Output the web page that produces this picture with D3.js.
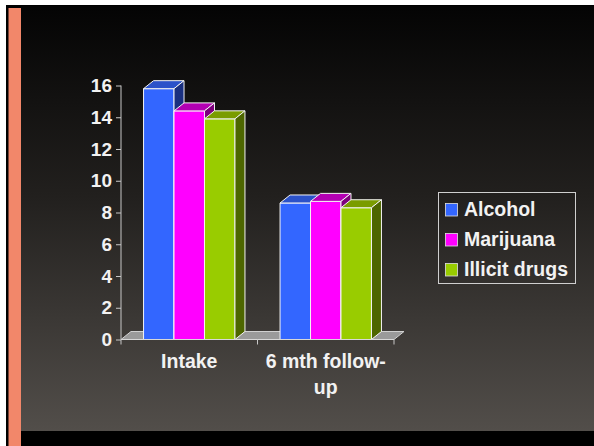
<!DOCTYPE html>
<html>
<head>
<meta charset="utf-8">
<script src="https://cdn.jsdelivr.net/npm/d3@7"></script>
<style>
  html, body { margin: 0; padding: 0; background: #fff; }
  svg { display: block; }
  text { font-family: "Liberation Sans", Arial, sans-serif; font-weight: bold; }
</style>
</head>
<body>
<svg id="chart" width="594" height="446"></svg>
<script>
// Chart data
const categories = ["Intake", "6 mth follow-up"];
const series = ["Alcohol", "Marijuana", "Illicit drugs"];
const alcohol = [15.8, 8.6];
const marijuana = [14.4, 8.7];
const illicit = [13.9, 8.3];
const yTicks = [0, 2, 4, 6, 8, 10, 12, 14, 16];
const categoryLines = [["Intake"], ["6 mth follow-", "up"]];

const values = [alcohol, marijuana, illicit];
const palette = {
  front: ["#3366ff", "#ff00ff", "#99cc00"],
  top:   ["#2b52c9", "#b300b3", "#7a9c00"],
  side:  ["#1a3080", "#7d007d", "#4d6600"]
};

const svg = d3.select("#chart");
const W = 594, H = 446;

// Slide backdrop
const defs = svg.append("defs");
const grad = defs.append("linearGradient")
  .attr("id", "bg").attr("x1", 0).attr("y1", 0).attr("x2", 0).attr("y2", 1);
grad.append("stop").attr("offset", "0%").attr("stop-color", "#040404");
grad.append("stop").attr("offset", "45%").attr("stop-color", "#22201e");
grad.append("stop").attr("offset", "100%").attr("stop-color", "#524e4a");

svg.append("rect").attr("x", 6).attr("y", 5).attr("width", W - 6).attr("height", H - 5).attr("fill", "#000");
svg.append("rect").attr("x", 21).attr("y", 6).attr("width", W - 21).attr("height", 425).attr("fill", "url(#bg)");
svg.append("rect").attr("x", 8.5).attr("y", 8).attr("width", 12.5).attr("height", H - 8).attr("fill", "#f2876a");

// Plot geometry
const x0 = 121, x1 = 394, yBase = 339.5, yTopPx = 85.5;
const dx = 10, dy = 8;

const x = d3.scaleBand().domain(categories).range([x0, x1]).padding(0);
const xs = d3.scaleBand().domain(series).range([0, x.bandwidth()]).paddingInner(0).paddingOuter(0.74);
const y = d3.scaleLinear().domain([0, 16]).range([yBase, yTopPx]);

const plot = svg.append("g");

// Floor
plot.append("path")
  .attr("d", `M${x0},${yBase} L${x0 + dx},${yBase - dy} L${x1 + dx},${yBase - dy} L${x1},${yBase} Z`)
  .attr("fill", "#9a9a9a").attr("stroke", "#d0d0d0").attr("stroke-width", 1);

// Bars, left to right so nearer faces overlap correctly
categories.forEach((cat, ci) => {
  series.forEach((s, si) => {
    const v = values[si][ci];
    const bx = x(cat) + xs(s);
    const bw = xs.bandwidth();
    const ty = y(v);
    const g = plot.append("g").attr("stroke", "#f4f4f4").attr("stroke-width", 1).attr("stroke-linejoin", "round");
    g.append("rect").attr("x", bx).attr("y", ty).attr("width", bw).attr("height", yBase - ty)
      .attr("fill", palette.front[si]);
    g.append("path")
      .attr("d", `M${bx},${ty} L${bx + dx},${ty - dy} L${bx + bw + dx},${ty - dy} L${bx + bw},${ty} Z`)
      .attr("fill", palette.top[si]);
    g.append("path")
      .attr("d", `M${bx + bw},${ty} L${bx + bw + dx},${ty - dy} L${bx + bw + dx},${yBase - dy} L${bx + bw},${yBase} Z`)
      .attr("fill", palette.side[si]);
  });
});

// Y axis
const yAxis = d3.axisLeft(y).tickValues(yTicks).tickSize(5).tickPadding(4);
const ya = svg.append("g").attr("transform", `translate(${x0},0)`).call(yAxis);
ya.select(".domain").attr("stroke", "#c8c8c8").attr("d", `M0,${yBase}V${yTopPx}`);
ya.selectAll(".tick line").attr("stroke", "#c8c8c8");
ya.selectAll(".tick text").attr("fill", "#f2f2f2").attr("font-size", 19)
  .attr("font-family", "Liberation Sans, Arial, sans-serif").attr("font-weight", "bold");

// X axis baseline with boundary ticks
const xa = svg.append("g");
xa.append("line").attr("x1", x0).attr("x2", x1).attr("y1", yBase).attr("y2", yBase).attr("stroke", "#d8d8d8");
[x0, x(categories[1]), x1].forEach(px => {
  xa.append("line").attr("x1", px).attr("x2", px).attr("y1", yBase).attr("y2", yBase + 5).attr("stroke", "#c8c8c8");
});
categories.forEach((cat, ci) => {
  const t = xa.append("text").attr("x", x(cat) + x.bandwidth() / 2).attr("y", 368)
    .attr("text-anchor", "middle").attr("fill", "#f2f2f2").attr("font-size", 19.5);
  categoryLines[ci].forEach((line, li) => {
    t.append("tspan").attr("x", x(cat) + x.bandwidth() / 2).attr("dy", li === 0 ? 0 : 26).text(line);
  });
});

// Legend
const lg = svg.append("g");
lg.append("rect").attr("x", 438.5).attr("y", 192.5).attr("width", 137).attr("height", 91)
  .attr("fill", "none").attr("stroke", "#cfcfcf").attr("stroke-width", 1);
series.forEach((s, si) => {
  const by = 216 + si * 30;
  lg.append("rect").attr("x", 445.5).attr("y", by - 12.5).attr("width", 12).attr("height", 12.5)
    .attr("fill", palette.front[si]).attr("stroke", "#e0e0e0").attr("stroke-width", 0.8);
  lg.append("text").attr("x", 464).attr("y", by).attr("fill", "#f2f2f2").attr("font-size", 19.5).text(s);
});
</script>
</body>
</html>
